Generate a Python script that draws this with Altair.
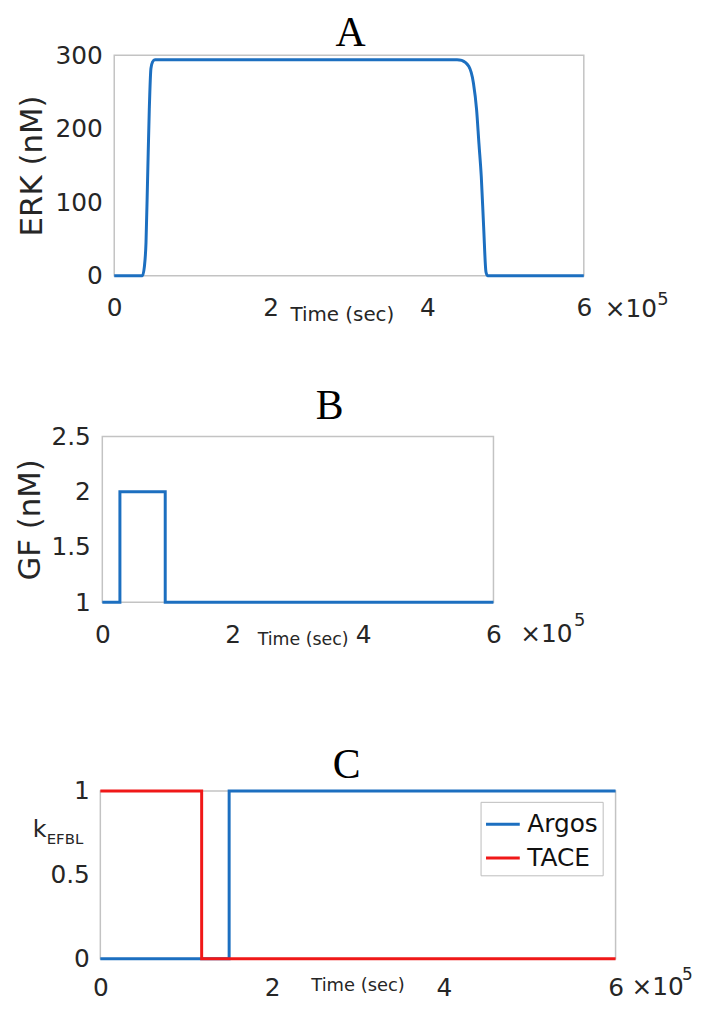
import altair as alt
import pandas as pd

# ---------------- data (time in units of 1e5 s) ----------------
erk_t = [0, 0.36, 0.385, 0.406, 0.427, 0.448, 0.469, 0.49, 0.52, 4.38, 4.44, 4.53, 4.59, 4.63, 4.66, 4.69, 4.72, 4.75, 4.77, 6.0]
erk_v = [0, 0, 12, 45, 135, 226, 282, 291, 294, 294, 293, 285, 262, 226, 180, 135, 67, 5, 0, 0]

gf_t = [0, 0.27, 0.27, 0.965, 0.965, 6.0]
gf_v = [1, 1, 2, 2, 1, 1]

argos_t = [0, 1.50, 1.50, 6.0]
argos_v = [0, 0, 1, 1]
tace_t = [0, 1.18, 1.18, 6.0]
tace_v = [1, 1, 0, 0]

series_names = ["Argos", "TACE"]
x_ticks = [0, 2, 4, 6]
erk_ticks = [0, 100, 200, 300]
gf_ticks = [1, 1.5, 2, 2.5]
k_ticks = [0, 0.5, 1]

# ---------------- styles ----------------
BLUE = "#1c6fc0"
RED = "#f01818"
TXT = "#262626"
SANS = "DejaVu Sans"
SERIF = "Liberation Serif"
one = pd.DataFrame({"a": [0]})


def bounds_rect(x1, x2, y1, y2):
    # invisible rectangle that fixes the extent of each panel in the layout
    return alt.Chart(one).mark_rect(opacity=0).encode(
        x=alt.value(x1), x2=alt.value(x2), y=alt.value(y1), y2=alt.value(y2))


def spacer():
    return alt.Chart(one).mark_rect(opacity=0).encode(
        x=alt.value(0), x2=alt.value(1), y=alt.value(0), y2=alt.value(1)
    ).properties(width=1, height=1, view=alt.ViewBackground(stroke=None))


def txt(text, x, y, size, font=SANS, align="left", color=TXT):
    return alt.Chart(one).mark_text(
        text=text, align=align, baseline="alphabetic", font=font,
        fontSize=size, color=color).encode(x=alt.value(x), y=alt.value(y))


def xaxis(title_x, title_y, title_size, pad):
    return alt.Axis(values=x_ticks, format="~g", title="Time (sec)",
                    titleX=title_x, titleY=title_y, titleAlign="left",
                    titleBaseline="alphabetic", titleFontSize=title_size,
                    labelPadding=pad, labelFlush=False)


# ---------------- panel A ----------------
dfA = pd.DataFrame({"t": erk_t, "v": erk_v, "i": range(len(erk_t))})
lineA = alt.Chart(dfA).mark_line(color=BLUE, strokeWidth=3, interpolate="monotone").encode(
    x=alt.X("t:Q", scale=alt.Scale(domain=[0, 6], nice=False, zero=False),
            axis=xaxis(177, 45, 20, 20)),
    y=alt.Y("v:Q", scale=alt.Scale(domain=[0, 300], nice=False),
            axis=alt.Axis(values=erk_ticks, format="d", title="ERK (nM)",
                          titleX=-73, titleY=111, titleAngle=270, titleAlign="center",
                          titleBaseline="alphabetic", titleFontSize=31, labelPadding=12)),
    order="i:Q")
panelA = alt.layer(
    bounds_rect(-105, 577, -38, 324), lineA,
    txt("A", 238, -9, 42, font=SERIF, align="center", color="black"),
    txt("×10", 494, 264, 25), txt("5", 547, 252, 18),
).properties(width=473, height=222)

# ---------------- panel B ----------------
dfB = pd.DataFrame({"t": gf_t, "v": gf_v, "i": range(len(gf_t))})
lineB = alt.Chart(dfB).mark_line(color=BLUE, strokeWidth=3).encode(
    x=alt.X("t:Q", scale=alt.Scale(domain=[0, 6], nice=False, zero=False),
            axis=xaxis(156, 43, 17.5, 20)),
    y=alt.Y("v:Q", scale=alt.Scale(domain=[1, 2.5], nice=False, zero=False),
            axis=alt.Axis(values=gf_ticks, format="~g", title="GF (nM)",
                          titleX=-63, titleY=83.5, titleAngle=270, titleAlign="center",
                          titleBaseline="alphabetic", titleFontSize=31, labelPadding=12)),
    order="i:Q")
panelB = alt.layer(
    bounds_rect(-93, 589, -58, 304), lineB,
    txt("B", 229, -18, 42, font=SERIF, align="center", color="black"),
    txt("×10", 421, 207, 25), txt("5", 475, 191, 18),
).properties(width=394, height=167)

# ---------------- panel C ----------------
rows = []
for name, ts, vs in [("Argos", argos_t, argos_v), ("TACE", tace_t, tace_v)]:
    for j, (t, v) in enumerate(zip(ts, vs)):
        rows.append({"s": name, "t": t, "v": v, "i": j})
dfC = pd.DataFrame(rows)
lineC = alt.Chart(dfC).mark_line(strokeWidth=3).encode(
    x=alt.X("t:Q", scale=alt.Scale(domain=[0, 6], nice=False, zero=False),
            axis=xaxis(212, 32, 18, 17)),
    y=alt.Y("v:Q", scale=alt.Scale(domain=[0, 1], nice=False),
            axis=alt.Axis(values=k_ticks, format="~g", title=None, labelPadding=11)),
    color=alt.Color("s:N", scale=alt.Scale(domain=series_names, range=[BLUE, RED]),
                    legend=alt.Legend(orient="none", legendX=383, legendY=11, title=None,
                                      symbolType="stroke", symbolSize=1156,
                                      symbolStrokeWidth=3, labelFontSize=25,
                                      labelFont=SANS, labelColor="#111111",
                                      padding=4, rowPadding=2, labelOffset=6,
                                      strokeColor="#bcbcbc", fillColor="white",
                                      cornerRadius=0)),
    order="i:Q")
panelC = alt.layer(
    bounds_rect(-91, 591, -51, 211), lineC,
    txt("C", 248, -13, 42, font=SERIF, align="center", color="black"),
    txt("k", -68, 46, 24), txt("EFBL", -54, 53, 15),
    txt("×10", 535, 206, 25), txt("5", 586, 190, 17),
).properties(width=519, height=169)

rowA = alt.hconcat(spacer(), panelA, spacing=0)
rowB = alt.hconcat(spacer(), panelB, spacing=0)
rowC = alt.hconcat(spacer(), panelC, spacing=0).resolve_scale(color="independent").resolve_legend(color="independent")

chart = alt.vconcat(rowA, rowB, rowC, spacing=0).properties(
    padding={"left": 0, "top": 0, "right": 0, "bottom": 0}
).resolve_scale(color="independent").resolve_legend(color="independent").configure_axis(
    labelFont=SANS, labelFontSize=25, labelColor=TXT, titleFont=SANS,
    titleColor=TXT, titleFontWeight="normal", grid=False, domain=False,
    ticks=True, tickSize=0,
).configure_view(stroke="#c3c3c3", strokeWidth=1.5)

chart.save("out.html", embed_options={"renderer": "svg", "actions": False})
